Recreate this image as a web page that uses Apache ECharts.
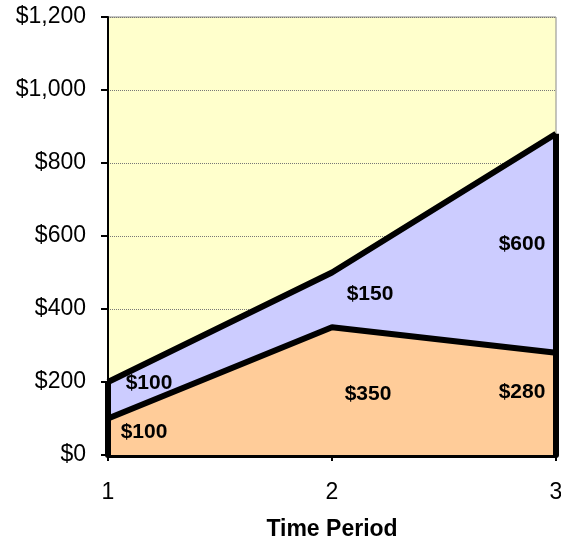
<!DOCTYPE html>
<html>
<head>
<meta charset="utf-8">
<script src="https://cdn.jsdelivr.net/npm/echarts@6/dist/echarts.min.js"></script>
<style>html,body{margin:0;padding:0;background:#fff}#c{width:561px;height:548px}</style>
</head>
<body>
<div id="c"></div>
<script>
var categories = ['1', '2', '3'];
var baseValues = [100, 350, 280];
var addValues = [100, 150, 600];
var yTicks = [0, 200, 400, 600, 800, 1000, 1200];

var totals = baseValues.map(function (v, i) { return v + addValues[i]; });
var baseOffsets = [[36, 14], [36, 67], [-34, 39]];
var addOffsets = [[41, 1], [38, 22], [-34, 110]];
var font = '"Liberation Sans", Arial, sans-serif';

function mk(vals, offs) {
  return vals.map(function (v, i) {
    return { value: v, label: { offset: offs[i] } };
  });
}
var lbl = {
  show: true, position: 'inside', color: '#000', fontWeight: 'bold',
  fontSize: 21, fontFamily: font,
  formatter: function (p) { return '$' + p.value; }
};

var chart = echarts.init(document.getElementById('c'));
chart.setOption({
  animation: false,
  grid: { left: 108, right: 5, top: 17, bottom: 93, show: true, containLabel: false,
    outerBoundsMode: 'none',
    backgroundColor: '#FFFFCC', borderColor: '#8a8a8a', borderWidth: 1 },
  xAxis: {
    type: 'category', data: categories, boundaryGap: false,
    name: 'Time Period', nameLocation: 'middle', nameGap: 63,
    nameTextStyle: { fontWeight: 'bold', fontSize: 23, color: '#000', fontFamily: font },
    axisLine: { lineStyle: { color: '#000', width: 6 } },
    axisTick: { show: true, length: 6, lineStyle: { color: '#000', width: 2 } },
    axisLabel: { margin: 26, fontSize: 23, color: '#000', fontFamily: font },
    splitLine: { show: false }
  },
  yAxis: {
    type: 'value', min: yTicks[0], max: yTicks[yTicks.length - 1], interval: 200,
    axisLine: { show: true, lineStyle: { color: '#000', width: 2 } },
    axisTick: { show: true, length: 7, lineStyle: { color: '#000', width: 2 } },
    axisLabel: { margin: 22, fontSize: 23, color: '#000', fontFamily: font,
      formatter: function (v) { return '$' + v.toLocaleString('en-US'); } },
    splitLine: { show: true, lineStyle: { color: '#777', width: 1, type: 'dotted' } }
  },
  series: [
    {
      type: 'line', stack: 'total', z: 4, data: mk(baseValues, baseOffsets),
      symbol: 'circle', symbolSize: 1, itemStyle: { color: 'rgba(0,0,0,0)' },
      lineStyle: { color: '#000', width: 6 },
      areaStyle: { color: '#FFCC99', opacity: 1 },
      label: lbl,
      markLine: {
        silent: true, symbol: 'none', label: { show: false }, z: 1,
        lineStyle: { color: '#777', width: 1, type: 'dotted' },
        data: [
          [{ coord: [1, 0] }, { coord: [1, totals[1]] }]
        ]
      }
    },
    {
      type: 'line', stack: 'total', z: 3, data: mk(addValues, addOffsets),
      symbol: 'circle', symbolSize: 1, itemStyle: { color: 'rgba(0,0,0,0)' },
      lineStyle: { color: '#000', width: 6 },
      areaStyle: { color: '#CCCCFF', opacity: 1 },
      label: lbl,
      markLine: {
        silent: true, symbol: 'none', label: { show: false },
        lineStyle: { color: '#000', width: 6, type: 'solid' },
        data: [
          [{ coord: [0, 0] }, { coord: [0, totals[0]] }],
          [{ coord: [2, 0] }, { coord: [2, totals[2]] }]
        ]
      }
    }
  ]
});
</script>
</body>
</html>
